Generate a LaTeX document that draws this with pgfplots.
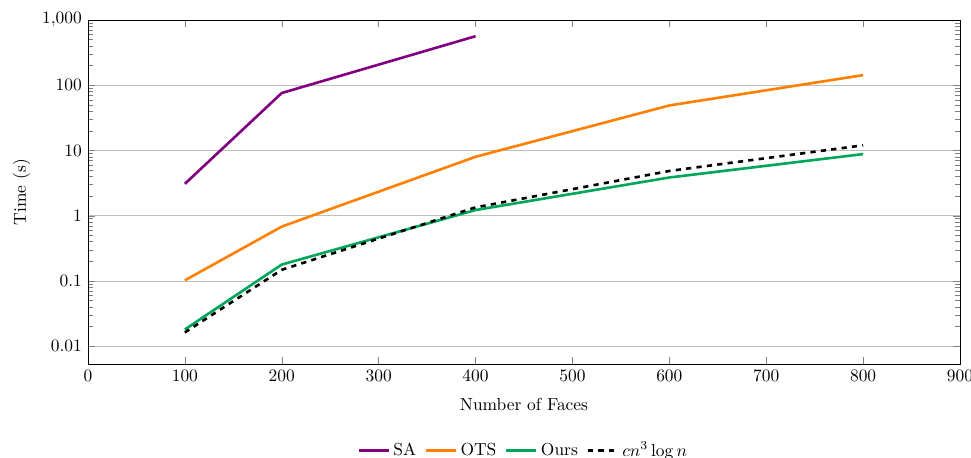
\documentclass[border=0pt]{standalone}
\usepackage{pgfplots}
\pgfplotsset{compat=1.18}
\definecolor{saPurple}{RGB}{128,0,128}
\definecolor{otsOrange}{RGB}{255,127,0}
\definecolor{oursGreen}{RGB}{0,166,90}
\begin{document}
\begin{tikzpicture}
\begin{axis}[
  scale only axis,
  width=500.6pt, height=197.5pt,
  xmin=0, xmax=900,
  ymode=log, ymin=0.0053, ymax=1000,
  xtick={0,100,...,900},
  ytick={0.01,0.1,1,10,100,1000},
  log ticks with fixed point,
  ymajorgrids,
  grid style={gray!50},
  xlabel={Number of Faces},
  xlabel style={yshift=-3pt},
  ylabel={Time (s)},
  legend style={at={(0.5,-0.205)}, anchor=north, draw=none, legend columns=-1,
    /tikz/every even column/.append style={column sep=3pt}},
  every axis plot/.append style={line width=1.5pt},
]
\addplot[saPurple] coordinates {(100,3.08) (200,76) (400,565)};
\addlegendentry{SA}
\addplot[otsOrange] coordinates {(100,0.102) (200,0.68) (400,8.0) (600,49) (800,143)};
\addlegendentry{OTS}
\addplot[oursGreen] coordinates {(100,0.018) (200,0.178) (400,1.22) (600,3.85) (800,8.8)};
\addlegendentry{Ours}
\addplot[black, dashed] coordinates {(100,0.0162) (200,0.148) (400,1.34) (600,4.85) (800,12.0)};
\addlegendentry{$cn^3\log n$}
\end{axis}
\pgfresetboundingbox
\path[use as bounding box] ([shift={(-50.5pt,-53.4pt)}]current axis.south west) rectangle ([shift={(6.3pt,11.5pt)}]current axis.north east);
\end{tikzpicture}
\end{document}
